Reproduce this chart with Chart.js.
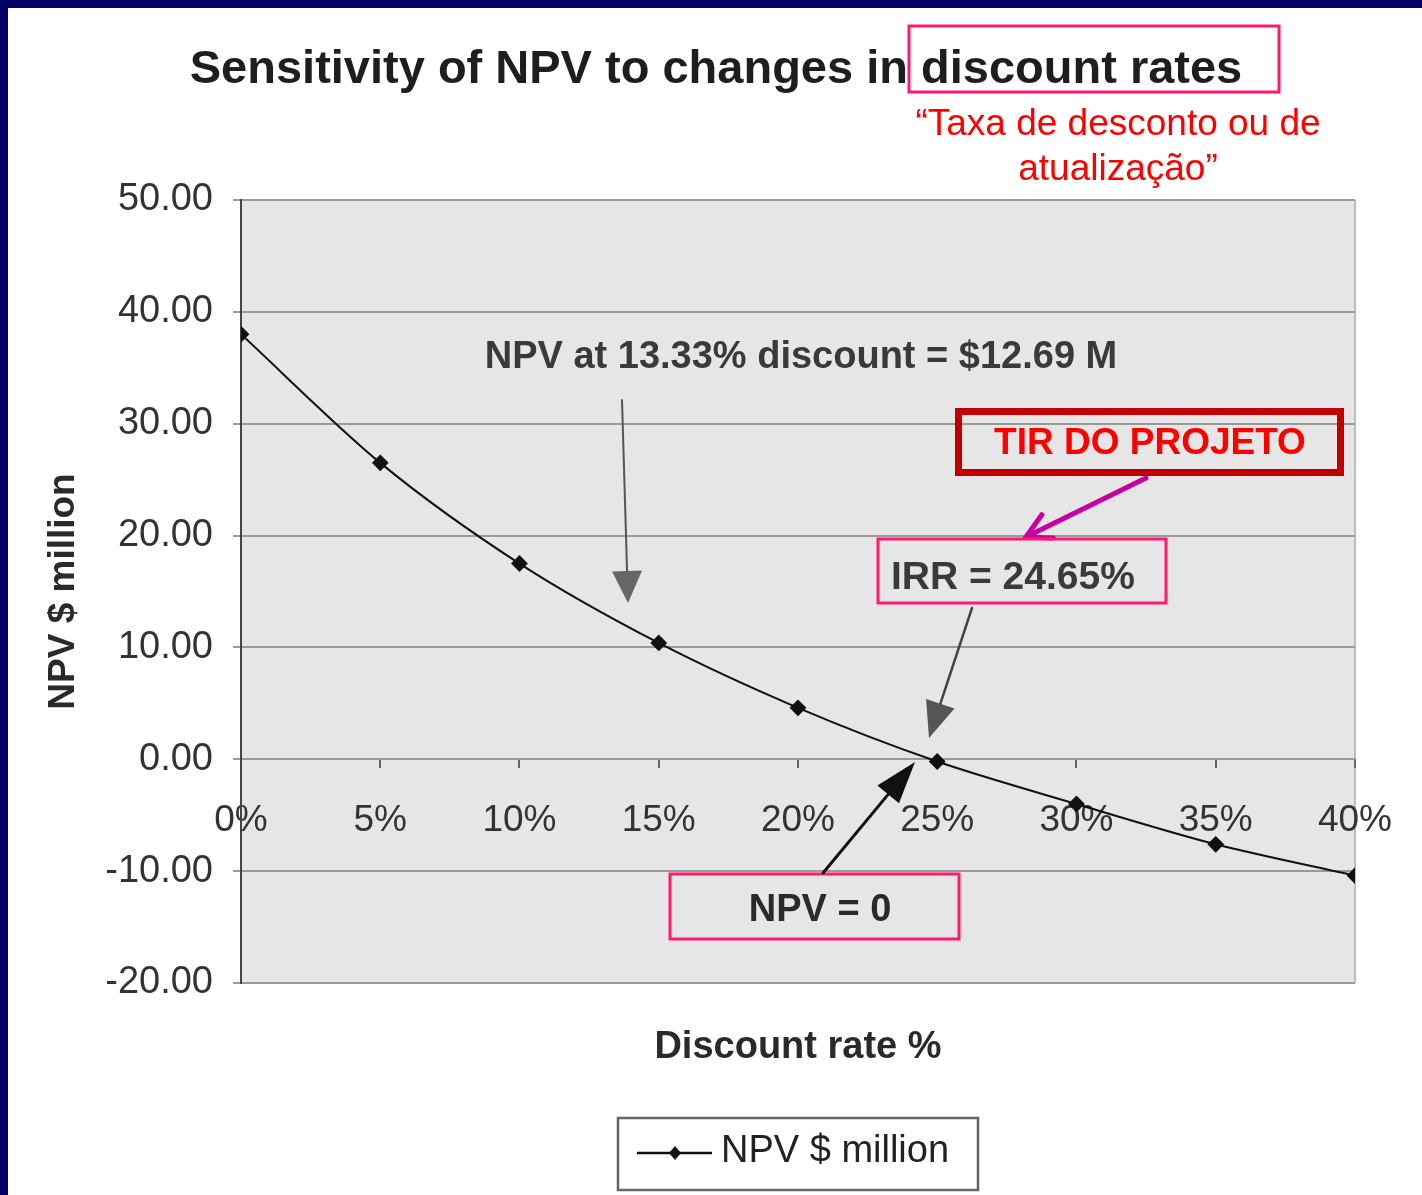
<!doctype html>
<html lang="en">
<head>
<meta charset="utf-8">
<title>Sensitivity of NPV to changes in discount rates</title>
<script src="https://cdn.jsdelivr.net/npm/chart.js"></script>
<style>
html, body { margin: 0; padding: 0; background: #ffffff; }
#wrap { width: 1422px; height: 1195px; position: relative; }
</style>
</head>
<body>
<div id="wrap"><canvas id="chart" width="1422" height="1195"></canvas></div>
<script>
// data
const rates = [0, 5, 10, 15, 20, 25, 30, 35, 40];
const npv = [38.0, 26.5, 17.5, 10.4, 4.6, -0.2, -4.0, -7.6, -10.4];
const yTicks = [-20, -10, 0, 10, 20, 30, 40, 50];
const seriesName = 'NPV $ million';
const chartTitle = 'Sensitivity of NPV to changes in discount rates';

const FONT = '"Liberation Sans", Arial, sans-serif';

function arrow(ctx, x1, y1, x2, y2, o) {
    const ang = Math.atan2(y2 - y1, x2 - x1);
    const bx = x2 - Math.cos(ang) * o.len;
    const by = y2 - Math.sin(ang) * o.len;
    ctx.save();
    ctx.strokeStyle = o.color;
    ctx.fillStyle = o.head || o.color;
    ctx.lineWidth = o.width;
    ctx.lineCap = 'round';
    ctx.beginPath();
    ctx.moveTo(x1, y1);
    ctx.lineTo(o.open ? x2 : bx, o.open ? y2 : by);
    ctx.stroke();
    const px = -Math.sin(ang) * o.half, py = Math.cos(ang) * o.half;
    ctx.beginPath();
    ctx.moveTo(bx + px, by + py);
    ctx.lineTo(x2, y2);
    ctx.lineTo(bx - px, by - py);
    if (o.open) {
        ctx.stroke();
    } else {
        ctx.closePath();
        ctx.fill();
    }
    ctx.restore();
}

function box(ctx, x, y, w, h, color, lw) {
    ctx.save();
    ctx.strokeStyle = color;
    ctx.lineWidth = lw;
    ctx.strokeRect(x, y, w, h);
    ctx.restore();
}

function text(ctx, s, x, y, font, color, align) {
    ctx.save();
    ctx.font = font;
    ctx.fillStyle = color;
    ctx.textAlign = align || 'center';
    ctx.textBaseline = 'middle';
    ctx.fillText(s, x, y);
    ctx.restore();
}

const backdrop = {
    id: 'backdrop',
    beforeDraw(chart) {
        const {ctx, chartArea: a} = chart;
        ctx.save();
        ctx.fillStyle = '#ffffff';
        ctx.fillRect(0, 0, chart.width, chart.height);
        ctx.fillStyle = '#e6e6e6';
        ctx.fillRect(a.left, a.top, a.right - a.left, a.bottom - a.top);
        ctx.strokeStyle = '#bdbdbd';
        ctx.lineWidth = 2;
        ctx.beginPath();
        ctx.moveTo(a.right, a.top);
        ctx.lineTo(a.right, a.bottom);
        ctx.stroke();
        ctx.restore();
    },
    afterDraw(chart) {
        const ctx = chart.ctx;
        // slide frame
        ctx.save();
        ctx.fillStyle = '#000066';
        ctx.fillRect(0, 0, chart.width, 8);
        ctx.fillRect(0, 0, 8, chart.height);
        ctx.restore();
    }
};

const notes = {
    id: 'notes',
    afterDraw(chart) {
        const ctx = chart.ctx;
        // title (centred on the slide, not the plot)
        text(ctx, chartTitle, 716, 70, 'bold 47px ' + FONT, '#1e1e1e');

        // title highlight + translation
        box(ctx, 909, 26, 370, 66, '#ff1a6e', 3);
        text(ctx, '\u201cTaxa de desconto ou de', 1118, 125, '37px ' + FONT, '#ff0000');
        text(ctx, 'atualiza\u00e7\u00e3o\u201d', 1118, 170, '37px ' + FONT, '#ff0000');

        // NPV at 13.33%
        text(ctx, 'NPV at 13.33% discount = $12.69 M', 801, 358, 'bold 38px ' + FONT, '#3a3a3a');
        arrow(ctx, 622, 400, 628, 603, {color: '#555', head: '#666', width: 2, len: 32, half: 15});

        // TIR do projeto
        box(ctx, 958.5, 411.5, 382, 61, '#c00000', 7);
        text(ctx, 'TIR DO PROJETO', 1150, 444, 'bold 37px ' + FONT, '#ff0000');
        arrow(ctx, 1146, 478, 1026, 537, {color: '#c800a0', width: 5, len: 24, half: 13, open: true});

        // IRR
        box(ctx, 878, 539, 288, 64, '#ff1a6e', 3);
        text(ctx, 'IRR = 24.65%', 891, 578, 'bold 39px ' + FONT, '#3a3a3a', 'left');
        arrow(ctx, 972, 608, 929, 738, {color: '#444', head: '#555', width: 2.5, len: 36, half: 15});

        // NPV = 0
        box(ctx, 670, 874, 289, 65, '#ff1a6e', 3);
        text(ctx, 'NPV = 0', 820, 911, 'bold 38px ' + FONT, '#2a2a2a');
        arrow(ctx, 823, 873, 915, 762, {color: '#111', width: 3, len: 42, half: 14});

        // legend
        ctx.save();
        ctx.fillStyle = '#ffffff';
        ctx.fillRect(618, 1118, 360, 72);
        ctx.strokeStyle = '#666';
        ctx.lineWidth = 2.5;
        ctx.strokeRect(618, 1118, 360, 72);
        ctx.strokeStyle = '#111';
        ctx.lineWidth = 2.5;
        ctx.beginPath();
        ctx.moveTo(637, 1153);
        ctx.lineTo(712, 1153);
        ctx.stroke();
        ctx.fillStyle = '#111';
        ctx.beginPath();
        ctx.moveTo(675, 1146);
        ctx.lineTo(681, 1153);
        ctx.lineTo(675, 1160);
        ctx.lineTo(669, 1153);
        ctx.closePath();
        ctx.fill();
        ctx.restore();
        text(ctx, seriesName, 721, 1152, '38px ' + FONT, '#222', 'left');
    }
};

new Chart(document.getElementById('chart'), {
    type: 'line',
    data: {
        datasets: [{
            label: seriesName,
            data: rates.map((r, i) => ({x: r, y: npv[i]})),
            borderColor: '#111',
            borderWidth: 2,
            tension: 0.3,
            pointStyle: 'rectRot',
            pointRadius: 7,
            pointBackgroundColor: '#111',
            pointBorderColor: '#111',
            fill: false
        }]
    },
    options: {
        responsive: false,
        animation: false,
        devicePixelRatio: 1,
        layout: {padding: {left: 0, right: 65, top: 200, bottom: 212}},
        plugins: {
            legend: {display: false},
            tooltip: {enabled: false},
            title: {display: false}
        },
        scales: {
            x: {
                type: 'linear',
                position: {y: 0},
                min: 0,
                max: 40,
                afterBuildTicks: s => { s.ticks = rates.map(v => ({value: v})); },
                ticks: {
                    callback: v => v + '%',
                    color: '#333',
                    font: {family: FONT, size: 37},
                    padding: 30,
                    maxRotation: 0
                },
                grid: {drawOnChartArea: false, drawTicks: true, tickLength: 9, color: '#666', lineWidth: 2},
                border: {display: false},
                title: {
                    display: true,
                    text: 'Discount rate %',
                    color: '#2a2a2a',
                    font: {family: FONT, size: 38, weight: 'bold'},
                    padding: {top: 152, bottom: 0}
                }
            },
            y: {
                min: -20,
                max: 50,
                afterBuildTicks: s => { s.ticks = yTicks.map(v => ({value: v})); },
                afterFit: s => { s.width = 241; },
                ticks: {
                    callback: v => v.toFixed(2),
                    color: '#333',
                    font: {family: FONT, size: 38},
                    padding: 20
                },
                grid: {color: '#9a9a9a', lineWidth: 2, tickLength: 8, drawTicks: true},
                border: {display: true, color: '#444', width: 2},
                title: {
                    display: true,
                    text: 'NPV $ million',
                    color: '#2a2a2a',
                    font: {family: FONT, size: 37, weight: 'bold'},
                    padding: {top: 42, bottom: 0}
                }
            }
        }
    },
    plugins: [backdrop, notes]
});
</script>
</body>
</html>
